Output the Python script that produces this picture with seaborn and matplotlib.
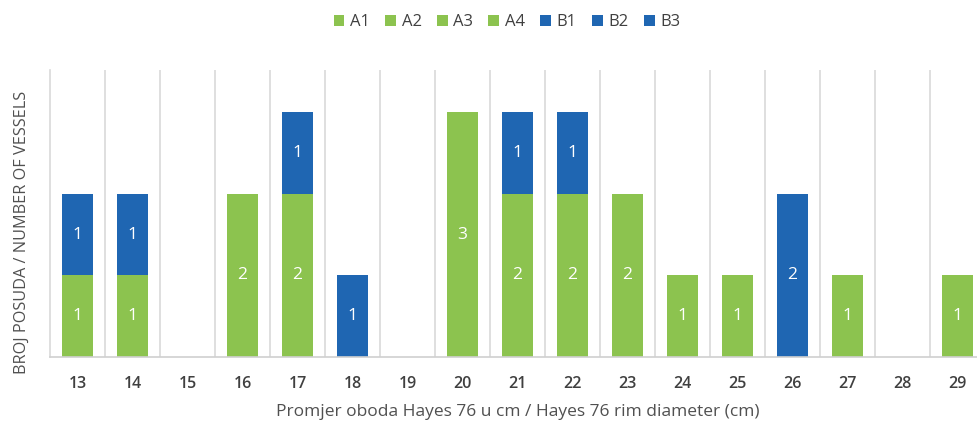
import matplotlib
matplotlib.use("Agg")
import matplotlib.pyplot as plt
import seaborn as sns
import pandas as pd
from matplotlib.patches import Patch

# Rim diameters (cm)
diameters = [13, 14, 15, 16, 17, 18, 19, 20, 21, 22, 23, 24, 25, 26, 27, 28, 29]

# Number of vessels per type and rim diameter
A1 = [1, 1, 0, 0, 0, 0, 0, 0, 0, 0, 0, 1, 1, 0, 0, 0, 0]
A2 = [0, 0, 0, 2, 2, 0, 0, 0, 0, 0, 0, 0, 0, 0, 1, 0, 0]
A3 = [0, 0, 0, 0, 0, 0, 0, 3, 2, 0, 0, 0, 0, 0, 0, 0, 1]
A4 = [0, 0, 0, 0, 0, 0, 0, 0, 0, 2, 2, 0, 0, 0, 0, 0, 0]
B1 = [1, 1, 0, 0, 0, 0, 0, 0, 0, 0, 0, 0, 0, 0, 0, 0, 0]
B2 = [0, 0, 0, 0, 1, 1, 0, 0, 1, 0, 0, 0, 0, 0, 0, 0, 0]
B3 = [0, 0, 0, 0, 0, 0, 0, 0, 0, 1, 0, 0, 0, 2, 0, 0, 0]

types = ["A1", "A2", "A3", "A4", "B1", "B2", "B3"]
series = [A1, A2, A3, A4, B1, B2, B3]

GREEN = "#8cc34f"
BLUE = "#1f66b2"
palette = {t: (GREEN if t.startswith("A") else BLUE) for t in types}

rows = []
for t, vals in zip(types, series):
    for d, v in zip(diameters, vals):
        rows.append({"diameter": d, "type": t, "count": v})
df = pd.DataFrame(rows)

plt.rcParams["font.family"] = ["Open Sans", "DejaVu Sans"]
fig = plt.figure(figsize=(9.77, 4.25), dpi=100)
ax = fig.add_axes([50 / 977, 1 - 357 / 425, 935 / 977, 287 / 425])

# Stacked bars; reversed hue order puts the A types at the bottom
sns.histplot(
    data=df, x="diameter", weights="count", hue="type",
    hue_order=types[::-1], palette=palette, multiple="stack",
    discrete=True, shrink=0.58, alpha=1, linewidth=0,
    ax=ax, legend=False,
)

# Value labels inside each segment
for p in ax.patches:
    h = p.get_height()
    if h > 0:
        ax.text(p.get_x() + p.get_width() / 2, p.get_y() + h / 2,
                f"{h:.0f}", ha="center", va="center",
                color="white", fontsize=12.5)

ax.set_xlim(12.5, 29.5)
ax.set_ylim(0, 3.52)
ax.set_xticks(diameters)
ax.set_xticklabels([str(d) for d in diameters], fontsize=11.5,
                   color="#404040", fontweight="semibold")
ax.tick_params(axis="x", length=0, pad=14)
ax.set_yticks([])

# Category separators
for b in [d + 0.5 for d in diameters[:-1]]:
    ax.axvline(b, color="#d9d9d9", lw=1.2, zorder=0)

for s in ["top", "right"]:
    ax.spines[s].set_visible(False)
ax.spines["left"].set_color("#d9d9d9")
ax.spines["left"].set_linewidth(1.2)
ax.spines["bottom"].set_color("#d0d0d0")
ax.spines["bottom"].set_linewidth(1.2)

ax.set_xlabel("Promjer oboda Hayes 76 u cm / Hayes 76 rim diameter (cm)",
              fontsize=12.5, color="#505050", labelpad=8)
ax.set_ylabel("BROJ POSUDA / NUMBER OF VESSELS", fontsize=11.7, color="#505050")
ax.yaxis.set_label_coords(-20 / 935, 0.435)

handles = [Patch(facecolor=palette[t], edgecolor="none") for t in types]
fig.legend(handles, types, loc="center", bbox_to_anchor=(507 / 977, 1 - 22 / 425),
           ncol=7, frameon=False, fontsize=12, handlelength=0.65,
           handleheight=0.65, handletextpad=0.35, columnspacing=0.9,
           labelcolor="#404040")

fig.savefig("out.png", dpi=100)
